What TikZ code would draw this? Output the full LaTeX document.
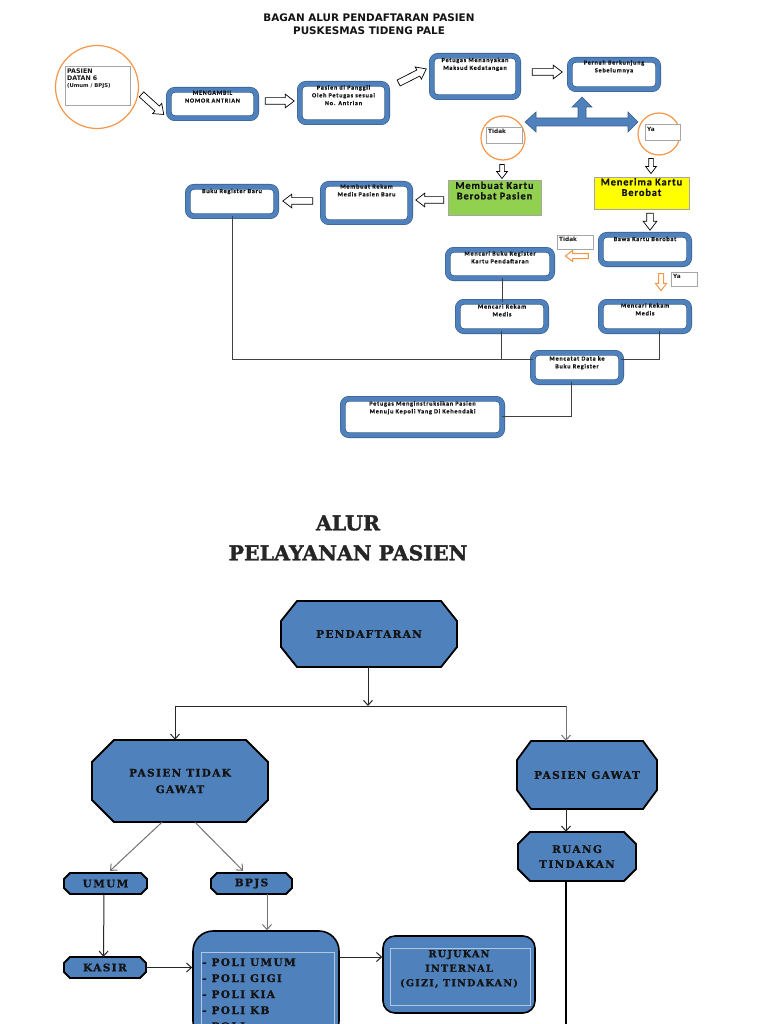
\documentclass[tikz,border=0pt]{standalone}
\usepackage{fontspec}
\usetikzlibrary{shapes.geometric,shapes.arrows,arrows.meta,calc}
\setmainfont{Carlito}
\newfontfamily\dvs{DejaVu Sans Bold}
\newfontfamily\calsp[LetterSpace=12,FakeBold=0.6]{Carlito Bold}
\newfontfamily\calbig[LetterSpace=9,FakeBold=0.8]{Carlito Bold}
\newfontfamily\slab[LetterSpace=13,FakeBold=1.2]{DejaVu Serif Bold}
\newfontfamily\slabtitle[FakeBold=1.5]{DejaVu Serif Bold}
\definecolor{boxblue}{HTML}{4F81BD}
\definecolor{boxedge}{HTML}{385D8A}
\definecolor{orng}{HTML}{F79646}
\definecolor{grn}{HTML}{92D050}
\definecolor{ylw}{HTML}{FFFF00}
\definecolor{ink}{HTML}{141414}
\definecolor{lbl}{HTML}{A6A6A6}
\newcommand\tbox[6]{%
  \node[tb, minimum width={#4-#2-5.7}, minimum height={#5-#3-5.7}] (#1) at ({(#2+#4)/2},{(#3+#5)/2}) {};}
\newcommand\octnode[8]{%
  \draw[octo] (#2+#6,#3) -- (#4-#6,#3) -- (#4,#3+#7) -- (#4,#5-#7) -- (#4-#6,#5) -- (#2+#6,#5) -- (#2,#5-#7) -- (#2,#3+#7) -- cycle;
  \node[octt, minimum width=#4-#2, minimum height=#5-#3] (#1) at ({(#2+#4)/2},{(#3+#5)/2}) {#8};}
\begin{document}
\begin{tikzpicture}[x=1pt,y=-1pt,
  tb/.style={draw=boxedge, line width=0.6pt, double=boxblue, double distance=4.5pt, rounded corners=6pt, fill=white, inner sep=0pt},
  tbt/.style={font=\calsp\fontsize{6.2}{7.8}\selectfont, align=center, inner sep=0pt, text=ink, anchor=north},
  harrow/.style={single arrow, draw=black, fill=white, line width=0.7pt, inner sep=0pt, inner ysep=3pt, single arrow head extend=3.5pt, single arrow tip angle=75, minimum height=#1},
  sarrow/.style={single arrow, draw=black, fill=white, line width=0.7pt, inner sep=0pt, inner ysep=2pt, single arrow head extend=3pt, single arrow tip angle=75, minimum height=#1},
  oarrow/.style={sarrow=#1, draw=orng, line width=1pt},
  ocirc/.style={circle, draw=orng, line width=1.2pt, inner sep=0pt},
  lblbox/.style={draw=lbl, line width=0.6pt, fill=white, inner sep=0pt, anchor=north west},
  lbltxt/.style={font=\dvs\fontsize{5.8}{7}\selectfont, text=ink, inner sep=0pt, anchor=north west, align=left},
  colbox/.style={draw=lbl, line width=0.6pt, inner sep=0pt},
  colt/.style={font=\calbig\fontsize{10.3}{10.5}\selectfont, align=center, inner sep=0pt, text=ink, anchor=north},
  tline/.style={draw=black!75, line width=0.9pt},
  octo/.style={draw=black, line width=1.8pt, fill=boxblue, line join=miter},
  octt/.style={font=\slab\fontsize{10.5}{16.5}\selectfont, align=center, inner sep=0pt, text=ink},
  conn/.style={draw=black!85, line width=1pt, -{Straight Barb[length=5pt,width=9pt,line width=1pt]}},
  gconn/.style={conn, draw=black!55},
  rbox/.style={draw=black, line width=1.6pt, fill=boxblue, inner sep=0pt},
  inrect/.style={draw=boxblue!45!white, line width=0.8pt, inner sep=0pt},
]
\useasboundingbox (0,0) rectangle (768,1024);
\clip (0,0) rectangle (768,1024);
\fill[white] (0,0) rectangle (768,1024);

% ---------- top title ----------
\node[font=\dvs\fontsize{10.4}{13}\selectfont, align=center, text=ink, inner sep=0pt] (title1) at (369,24.5) {BAGAN ALUR PENDAFTARAN PASIEN\\PUSKESMAS TIDENG PALE};

% ---------- patient circle ----------
\node[ocirc, minimum size=83] (pc) at (97,87) {};
\node[lblbox, minimum width=65, minimum height=39] (pcl) at (65,66) {};
\node[lbltxt] (pct) at (67,69) {\fontsize{6.3}{7}\selectfont PASIEN\\\fontsize{6.3}{7}\selectfont DATAN 6\\\fontsize{5.3}{7}\selectfont (Umum / BPJS)};

% ---------- top boxes ----------
\tbox{meng}{166}{87}{259}{121}{}
\node[tbt] (meng-t) at (212.5,90.5) {MENGAMBIL\\NOMOR ANTRIAN};
\tbox{pdp}{297}{81}{390}{125}{}
\node[tbt] (pdp-t) at (343.5,85) {Pasien di Panggil\\Oleh Petugas sesuai\\No. Antrian};
\tbox{ptm}{429}{53}{521}{100}{}
\node[tbt] (ptm-t) at (475,57.5) {Petugas Menanyakan\\Maksud Kedatangan};
\tbox{pbs}{567}{57}{661}{92}{}
\node[tbt] (pbs-t) at (614,60) {Pernah Berkunjung\\Sebelumnya};
\tbox{mrb}{320}{181}{413}{225}{}
\node[tbt] (mrb-t) at (366.5,184) {Membuat Rekam\\Medis Pasien Baru};
\tbox{buku}{185}{184}{279}{219}{}
\node[tbt] (buku-t) at (232,188.5) {Buku Register Baru};
\tbox{bawa}{598}{232}{692}{267}{}
\node[tbt] (bawa-t) at (645,236.5) {Bawa Kartu Berobat};
\tbox{mcb}{445}{247}{555}{281}{}
\node[tbt] (mcb-t) at (500,251) {Mencari Buku Register\\Kartu Pendaftaran};
\tbox{mrl}{455}{299}{549}{334}{}
\node[tbt] (mrl-t) at (502,304) {Mencari Rekam\\Medis};
\tbox{mrr}{598}{299}{692}{334}{}
\node[tbt] (mrr-t) at (645,303) {Mencari Rekam\\Medis};
\tbox{mct}{530}{350}{624}{385}{}
\node[tbt] (mct-t) at (577,356) {Mencatat Data ke\\Buku Register};
\tbox{pmk}{340}{396}{505}{438}{}
\node[tbt] (pmk-t) at (422.5,401) {Petugas Menginstruksikan Pasien\\Menuju Kepoli Yang Di Kehendaki};

% ---------- hollow block arrows ----------
\node[harrow=30, rotate=-42] (ha1) at (151,103) {};
\node[harrow=29] (ha2) at (277.5,101) {};
\node[harrow=31, rotate=27] (ha3) at (410.5,77) {};
\node[harrow=30] (ha4) at (545,72) {};
\node[sarrow=14, rotate=-90] (ha5) at (502,170) {};
\node[sarrow=15, rotate=-90] (ha6) at (651,164.5) {};
\node[harrow=28, rotate=180] (ha7) at (432,200) {};
\node[harrow=30, rotate=180] (ha8) at (300,201) {};
\node[harrow=17, rotate=-90] (ha9) at (650,219.5) {};
\node[oarrow=23, rotate=180] (oa1) at (578.5,256) {};
\node[oarrow=17, rotate=-90] (oa2) at (661,280.5) {};

% ---------- blue double arrow ----------
\filldraw[fill=boxblue, draw=boxedge, line width=0.6pt, line join=miter]
  (525,122) -- (536,112) -- (536,118) -- (578,118) -- (578,107) -- (572,107) -- (582,97)
  -- (592,107) -- (586,107) -- (586,118) -- (628,118) -- (628,112) -- (638,122)
  -- (628,132) -- (628,126) -- (536,126) -- (536,132) -- cycle;

% ---------- decision circles ----------
\node[ocirc, minimum size=44] (ctd) at (503,138) {};
\node[lblbox, minimum width=36, minimum height=16] (ctdl) at (486,127) {};
\node[lbltxt] (ctdt) at (488,129) {Tidak};
\node[ocirc, minimum size=42] (cya) at (659,134) {};
\node[lblbox, minimum width=35, minimum height=16] (cyal) at (645,124.5) {};
\node[lbltxt] (cyat) at (647,127) {Ya};

% ---------- coloured boxes ----------
\node[colbox, fill=grn, minimum width=93, minimum height=35] (green) at (494.5,197.5) {};
\node[colt] (green-t) at (494.5,181.5) {Membuat Kartu\\Berobat Pasien};
\node[colbox, fill=ylw, minimum width=95, minimum height=32] (yellow) at (641.5,193) {};
\node[colt] (yellow-t) at (641.5,178) {Menerima Kartu\\Berobat};

% ---------- small labels ----------
\node[lblbox, minimum width=36, minimum height=14] (ltd) at (557,235) {};
\node[lbltxt] (ltdt) at (559,237) {Tidak};
\node[lblbox, minimum width=26, minimum height=14] (lya) at (671,272) {};
\node[lbltxt] (lyat) at (673,274) {Ya};

% ---------- top connectors ----------
\coordinate (c1) at (232,359);
\coordinate (c2) at (659,359);
\coordinate (c3) at (571,416);
\draw[tline] (buku.south -| c1) -- (c1) -- (c1 -| mct.west);
\draw[tline] (mrl.north |- mcb.south) -- (mrl.north);
\draw[tline] ([xshift=-1]mrl.south) -- ([xshift=-1]mrl.south |- c1);
\draw[tline] (c2 |- mrr.south) -- (c2) -- (c2 -| mct.east);
\draw[tline] (c3 |- mct.south) -- (c3) -- (c3 -| pmk.east);

% ---------- bottom title ----------
\node[font=\slabtitle\fontsize{20.5}{30}\selectfont, align=center, text=black!85, inner sep=0pt] (title2) at (348,538) {ALUR\\PELAYANAN PASIEN};

% ---------- octagons ----------
\octnode{pend}{281}{601}{457}{667}{16}{20}{PENDAFTARAN}
\octnode{ptg}{92}{740}{268}{822}{22}{22}{PASIEN TIDAK\\GAWAT}
\octnode{pg}{517}{741}{657}{809}{14}{19}{PASIEN GAWAT}
\octnode{ruang}{518}{832}{636}{881}{12}{12}{RUANG\\[-1.5pt]TINDAKAN}
\octnode{umum}{64}{873}{147}{894}{6}{6}{UMUM}
\octnode{bpjs}{211}{873}{292}{894}{6}{6}{BPJS}
\octnode{kasir}{64}{957}{146}{978}{6}{6}{KASIR}

% ---------- rounded boxes ----------
\node[rbox, rounded corners=20pt, minimum width=146, minimum height=110] (poli) at (266,986) {};
\node[inrect, minimum width=133, minimum height=92, anchor=north west] (polin) at (201,952) {};
\node[octt, align=left, anchor=north west, font=\slab\fontsize{10.5}{16}\selectfont] (polit) at (202,958) {- POLI UMUM\\- POLI GIGI\\- POLI KIA\\- POLI KB\\- POLI};
\node[rbox, rounded corners=12pt, minimum width=152, minimum height=77] (ruj) at (459,974.5) {};
\node[inrect, minimum width=140, minimum height=57] (rujin) at (460,976.5) {};
\node[octt, anchor=north, font=\slab\fontsize{9.6}{14.5}\selectfont] (rujt) at (459,950) {RUJUKAN\\INTERNAL\\(GIZI, TINDAKAN)};

% ---------- bottom connectors ----------
\coordinate (j0) at (368,706);
\coordinate (jl) at (175,706);
\coordinate (jr) at (566,706);
\coordinate (pr) at (0,957);
\coordinate (rbot) at (566,1030);
\draw[conn] (j0 |- pend.south) -- (j0);
\draw[line width=1pt, draw=black!85] (jl) -- (jr);
\draw[conn] (jl) -- (jl |- ptg.north);
\draw[gconn] (jr) -- (jr |- pg.north);
\draw[conn] (jr |- pg.south) -- (jr |- ruang.north);
\draw[line width=1.2pt, draw=black] (jr |- ruang.south) -- (rbot);
\draw[gconn] ([xshift=-18]ptg.south) -- ([xshift=4.5,yshift=2]umum.north);
\draw[gconn] ([xshift=15]ptg.south) -- ([xshift=-8.5,yshift=2]bpjs.north);
\draw[conn] ([xshift=-1.5]umum.south) -- ([xshift=-1.5]kasir.north);
\draw[gconn] ([xshift=15.5]bpjs.south) -- ([xshift=15.5]bpjs.south |- poli.north);
\draw[conn] (kasir.east) -- (kasir.east -| poli.west);
\draw[conn] (poli.east |- pr) -- (pr -| ruj.west);
\end{tikzpicture}
\end{document}
